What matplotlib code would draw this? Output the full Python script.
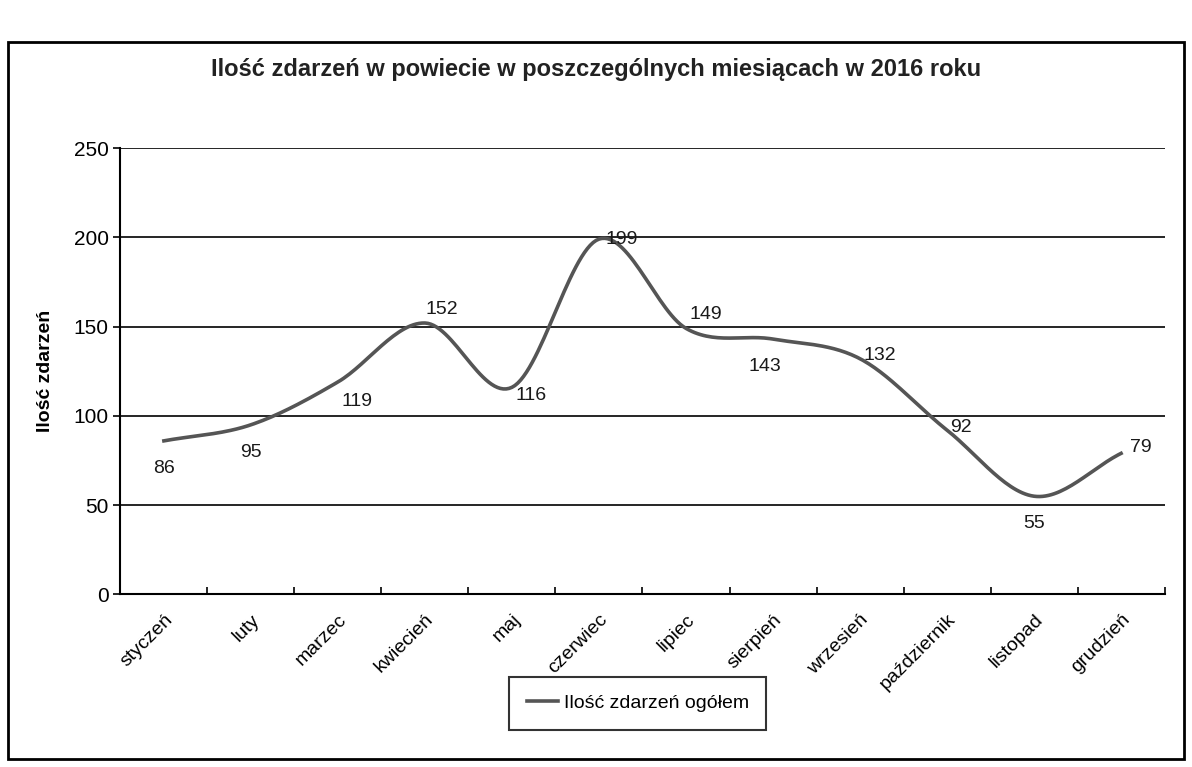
import numpy as np
import matplotlib.pyplot as plt
from matplotlib.patches import Rectangle

plt.rcParams['font.family'] = ['Liberation Sans', 'DejaVu Sans']

months = ["styczeń", "luty", "marzec", "kwiecień", "maj", "czerwiec",
          "lipiec", "sierpień", "wrzesień", "październik", "listopad", "grudzień"]
events = [86, 95, 119, 152, 116, 199, 149, 143, 132, 92, 55, 79]

# label offsets in points (dx, dy) to mimic the original placement
label_offsets = [(0, -20), (0, -20), (14, -14), (12, 10), (14, -6), (16, 0),
                 (14, 10), (-6, -20), (14, 2), (10, 2), (0, -20), (14, 4)]


def smooth(y, n=30):
    # Catmull-Rom curve through the points, like Excel's smoothed line
    y = np.asarray(y, float)
    p = np.concatenate([[2 * y[0] - y[1]], y, [2 * y[-1] - y[-2]]])
    xs, ys = [], []
    for i in range(1, len(p) - 2):
        t = np.linspace(0, 1, n, endpoint=False)
        p0, p1, p2, p3 = p[i - 1], p[i], p[i + 1], p[i + 2]
        v = 0.5 * ((2 * p1) + (-p0 + p2) * t + (2 * p0 - 5 * p1 + 4 * p2 - p3) * t ** 2
                   + (-p0 + 3 * p1 - 3 * p2 + p3) * t ** 3)
        xs.append(i - 1 + t)
        ys.append(v)
    xs.append([len(y) - 1])
    ys.append([y[-1]])
    return np.concatenate(xs), np.concatenate(ys)


fig = plt.figure(figsize=(11.92, 7.67), dpi=100)
ax = fig.add_axes([0.101, 0.225, 0.876, 0.582])

x = np.arange(len(months))
sx, sy = smooth(events)
ax.plot(sx, sy, color='#555555', lw=2.6, label='Ilość zdarzeń ogółem')

for xi, v, (dx, dy) in zip(x, events, label_offsets):
    ax.annotate(str(v), (xi, v), xytext=(dx, dy), textcoords='offset points',
                ha='center', va='center', fontsize=14, color='#1a1a1a')

ax.set_xlim(-0.5, len(months) - 0.5)
ax.set_ylim(0, 250)
ax.set_yticks(range(0, 251, 50))
ax.yaxis.grid(True, color='black', lw=1.2)
ax.set_axisbelow(True)
ax.set_xticks(np.arange(-0.5, len(months), 1), minor=False)
ax.set_xticklabels([])
ax.set_xticks(x, minor=True)
ax.set_xticklabels(months, minor=True, rotation=45, ha='right', rotation_mode='anchor',
                   fontsize=14)
ax.tick_params(axis='x', which='minor', length=0, pad=12)
ax.tick_params(axis='x', which='major', length=5, direction='in', width=1.2)
ax.tick_params(axis='y', length=5, direction='out', labelsize=15, width=1.2)
for s in ['top', 'right']:
    ax.spines[s].set_visible(False)
ax.spines['left'].set_linewidth(1.5)
ax.spines['bottom'].set_linewidth(1.5)
ax.set_ylabel('Ilość zdarzeń', fontsize=14, fontweight='bold', labelpad=14)

fig.suptitle('Ilość zdarzeń w powiecie w poszczególnych miesiącach w 2016 roku',
             x=0.5, y=0.925, fontsize=17, fontweight='bold', color='#222222')

leg = fig.legend(loc='center', bbox_to_anchor=(0.535, 0.083), fontsize=14,
                 frameon=True, fancybox=False, edgecolor='black', handlelength=1.6,
                 handletextpad=0.3, borderpad=0.9)
leg.get_frame().set_linewidth(1.5)

fig.patches.append(Rectangle((0.007, 0.01), 0.986, 0.935, transform=fig.transFigure,
                             fill=False, edgecolor='black', lw=2))

fig.savefig('out.png', dpi=100)
